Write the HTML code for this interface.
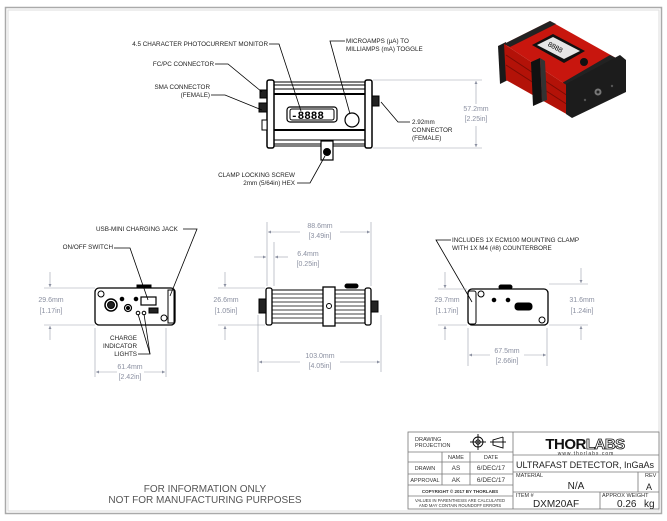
<!DOCTYPE html>
<html><head><meta charset="utf-8"><style>
html,body{margin:0;padding:0;background:#fff;}
svg{display:block;font-family:"Liberation Sans",sans-serif;}
.l{fill:#222;font-size:6.3px;}
.d{fill:#8a8fa0;font-size:7px;}
.k{stroke:#000;fill:none;}
.g{stroke:#9aa0aa;stroke-width:0.6;fill:none;}
</style></head><body>
<svg width="667" height="521" viewBox="0 0 667 521" xmlns="http://www.w3.org/2000/svg">
<defs><marker id="a" viewBox="0 0 6 6" refX="6" refY="3" markerWidth="5" markerHeight="5" orient="auto-start-reverse"><path d="M0,0L6,3L0,6z" fill="#8a8fa0"/></marker></defs>
<rect x="0" y="0" width="667" height="521" fill="#fff"/>
<rect x="5.5" y="7.5" width="656" height="506" fill="none" stroke="#aaa" stroke-width="1.5"/>
<rect x="8" y="10" width="651" height="501" fill="none" stroke="#ddd" stroke-width="1"/>

<!-- TOP VIEW -->
<g class="k" stroke-width="1">
<rect x="273" y="82" width="92" height="64" fill="#fff"/>
<rect x="267" y="80" width="7" height="68" rx="2" fill="#fff" stroke-width="1.5"/>
<rect x="365" y="80" width="7" height="68" rx="2" fill="#fff" stroke-width="1.5"/>
<line x1="274" y1="85" x2="365" y2="85"/><line x1="274" y1="89" x2="365" y2="89"/>
<line x1="274" y1="94" x2="365" y2="94" stroke-width="2"/>
<line x1="274" y1="130" x2="365" y2="130" stroke-width="2"/>
<line x1="274" y1="140" x2="365" y2="140"/><line x1="274" y1="144" x2="365" y2="144"/>
<rect x="287" y="107" width="50" height="15" rx="3" stroke-width="1.2"/>
<rect x="290" y="109" width="44" height="11" rx="2"/>
<text x="291" y="119" font-size="11" font-family="Liberation Mono" fill="#000" stroke="none" font-weight="bold">-8888</text>
<circle cx="352" cy="120" r="7" stroke-width="1.2"/>
<rect x="321" y="141" width="12" height="19" fill="#fff" stroke-width="1.2"/>
<circle cx="327" cy="152" r="3.5" fill="#000"/>
<rect x="260" y="90" width="7" height="8" fill="#222"/>
<rect x="259" y="103" width="8" height="9" fill="#222"/>
<rect x="262" y="120" width="5" height="10" fill="#fff"/>
<rect x="372" y="96" width="7" height="10" fill="#222"/>
</g>
<g stroke="#000" stroke-width="0.8" fill="none">
<polyline points="269,44 279,44 301,111"/>
<polyline points="345,41 330,41 350,114"/>
<polyline points="215,64 228,64 262,92"/>
<polyline points="211,95 225,95 262,110"/>
<polyline points="410,122 398,122 381,102"/>
<polyline points="297,183 310,183 325,156"/>
</g>
<text class="l" x="268" y="46" text-anchor="end">4.5 CHARACTER PHOTOCURRENT MONITOR</text>
<text class="l" x="346" y="43">MICROAMPS (µA) TO</text>
<text class="l" x="346" y="51">MILLIAMPS (mA) TOGGLE</text>
<text class="l" x="214" y="66" text-anchor="end">FC/PC CONNECTOR</text>
<text class="l" x="210" y="89" text-anchor="end">SMA CONNECTOR</text>
<text class="l" x="210" y="97" text-anchor="end">(FEMALE)</text>
<text class="l" x="412" y="124">2.92mm</text>
<text class="l" x="412" y="132">CONNECTOR</text>
<text class="l" x="412" y="140">(FEMALE)</text>
<text class="l" x="295" y="177" text-anchor="end">CLAMP LOCKING SCREW</text>
<text class="l" x="295" y="185" text-anchor="end">2mm (5/64in) HEX</text>
<line class="g" x1="373" y1="80" x2="482" y2="80"/><line class="g" x1="373" y1="148" x2="482" y2="148"/>
<line class="g" x1="476" y1="81" x2="476" y2="147" marker-start="url(#a)" marker-end="url(#a)"/>
<rect x="463" y="104" width="26" height="22" fill="#fff"/>
<text class="d" x="476" y="111" text-anchor="middle">57.2mm</text>
<text class="d" x="476" y="121" text-anchor="middle">[2.25in]</text>

<!-- RED DEVICE (isometric) -->
<g>
<!-- left end plate -->
<polygon points="498,46 506,42 508,80 500,84" fill="#1a1a1a"/>
<!-- top face -->
<polygon points="504,44 550,21 616,58 568,86" fill="#c8160e"/>
<polygon points="504,44 550,21 556,24 510,47" fill="#222"/>
<polygon points="610,55 616,58 568,86 562,83" fill="#222"/>
<!-- front face -->
<polygon points="504,44 568,86 570,116 506,80" fill="#b31208"/>
<line x1="506" y1="55" x2="568" y2="96" stroke="#7a0c05" stroke-width="1"/>
<line x1="506" y1="65" x2="568" y2="105" stroke="#7a0c05" stroke-width="1"/>
<!-- right end plate -->
<polygon points="566,84 620,55 626,60 626,92 572,118 566,114" fill="#1c1c1c"/>
<circle cx="598" cy="92" r="3.5" fill="#777"/><circle cx="598" cy="92" r="1.5" fill="#222"/>
<circle cx="585" cy="100" r="1.2" fill="#555"/><circle cx="612" cy="86" r="1.2" fill="#555"/>
<!-- display -->
<polygon points="532,45 553,34 585,51 564,63" fill="#111"/>
<polygon points="537,45 553,37 580,51 564,59" fill="#e6e6e6"/>
<text x="547" y="51" font-size="7" fill="#000" transform="rotate(28 558 49)">8888</text>
<circle cx="584" cy="62" r="4" fill="#111"/>
<!-- clamp -->
<polygon points="531,62 540,58 542,102 533,106" fill="#111"/>
<polygon points="540,58 545,61 547,100 542,102" fill="#333"/>
</g>

<!-- LEFT END VIEW -->
<g class="k">
<rect x="95" y="288" width="80" height="37" rx="4" stroke-width="1.3" fill="#fff"/>
<rect x="168" y="290" width="6" height="33" fill="none"/>
<circle cx="101" cy="294" r="3"/>
<circle cx="111" cy="305" r="6" stroke-width="1.5"/><circle cx="111" cy="305" r="3.5" fill="#222"/>
<circle cx="128" cy="308" r="3.5" stroke-width="1.2"/><circle cx="128" cy="308" r="1.5" fill="#000"/>
<circle cx="122" cy="299" r="1.8" fill="#000"/><circle cx="136" cy="299" r="1.8" fill="#000"/>
<rect x="141" y="297" width="15" height="8" stroke-width="1.2"/>
<rect x="149" y="308" width="9" height="5" fill="#222"/>
<circle cx="138" cy="313" r="1.8"/><circle cx="144" cy="313" r="1.8"/>
<circle cx="164" cy="318" r="3"/>
<rect x="137" y="285" width="14" height="3" fill="#000"/>
</g>
<g stroke="#000" stroke-width="0.8" fill="none">
<polyline points="183,229 197,229 170,296"/>
<polyline points="114,248 130,248 148,300"/>
<polyline points="138,354 150,354 138,314"/>
<line x1="150" y1="354" x2="144" y2="314"/>
</g>
<text class="l" x="96" y="231">USB-MINI CHARGING JACK</text>
<text class="l" x="113" y="249" text-anchor="end">ON/OFF SWITCH</text>
<text class="l" x="137" y="340" text-anchor="end">CHARGE</text>
<text class="l" x="137" y="348" text-anchor="end">INDICATOR</text>
<text class="l" x="137" y="356" text-anchor="end">LIGHTS</text>
<line class="g" x1="44" y1="288" x2="95" y2="288"/><line class="g" x1="44" y1="325" x2="95" y2="325"/>
<line class="g" x1="50" y1="272" x2="50" y2="287" marker-end="url(#a)"/>
<line class="g" x1="50" y1="340" x2="50" y2="326" marker-end="url(#a)"/>
<text class="d" x="51" y="302" text-anchor="middle">29.6mm</text>
<text class="d" x="51" y="313" text-anchor="middle">[1.17in]</text>
<line class="g" x1="95" y1="328" x2="95" y2="377"/><line class="g" x1="166" y1="328" x2="166" y2="377"/>
<line class="g" x1="96" y1="372" x2="117" y2="372" marker-start="url(#a)"/>
<line class="g" x1="144" y1="372" x2="165" y2="372" marker-end="url(#a)"/>
<text class="d" x="130" y="369" text-anchor="middle">61.4mm</text>
<text class="d" x="130" y="379" text-anchor="middle">[2.42in]</text>

<!-- MIDDLE SIDE VIEW -->
<g class="k">
<rect x="270" y="290" width="96" height="33" fill="#fff"/>
<g stroke-width="0.8">
<line x1="272" y1="294" x2="365" y2="294"/><line x1="272" y1="298" x2="365" y2="298"/><line x1="272" y1="302" x2="365" y2="302"/>
<line x1="272" y1="306" x2="365" y2="306"/><line x1="272" y1="310" x2="365" y2="310"/><line x1="272" y1="314" x2="365" y2="314"/>
<line x1="272" y1="318" x2="365" y2="318"/>
</g>
<rect x="266" y="288" width="6" height="37" rx="2" fill="#fff" stroke-width="1.3"/>
<rect x="365" y="288" width="6" height="37" rx="2" fill="#fff" stroke-width="1.3"/>
<rect x="323" y="287" width="12" height="39" fill="#fff" stroke-width="1.3"/>
<circle cx="329" cy="306" r="2.5"/>
<rect x="259" y="299" width="7" height="14" fill="#222"/>
<rect x="371" y="301" width="7" height="11" fill="#222"/>
<rect x="345" y="284" width="13" height="4" rx="2" fill="#000"/>
</g>
<line class="g" x1="267" y1="222" x2="267" y2="286"/><line class="g" x1="371" y1="222" x2="371" y2="286"/>
<line class="g" x1="268" y1="232" x2="370" y2="232" marker-start="url(#a)" marker-end="url(#a)"/>
<rect x="300" y="229" width="40" height="4" fill="#fff"/>
<text class="d" x="320" y="228" text-anchor="middle">88.6mm</text>
<text class="d" x="320" y="238" text-anchor="middle">[3.49in]</text>
<line class="g" x1="274" y1="242" x2="274" y2="286"/>
<line class="g" x1="254" y1="257" x2="266" y2="257" marker-end="url(#a)"/>
<line class="g" x1="288" y1="257" x2="275" y2="257" marker-end="url(#a)"/>
<text class="d" x="308" y="256" text-anchor="middle">6.4mm</text>
<text class="d" x="308" y="266" text-anchor="middle">[0.25in]</text>
<line class="g" x1="218" y1="288" x2="265" y2="288"/><line class="g" x1="218" y1="325" x2="265" y2="325"/>
<line class="g" x1="225" y1="272" x2="225" y2="287" marker-end="url(#a)"/>
<line class="g" x1="225" y1="340" x2="225" y2="326" marker-end="url(#a)"/>
<text class="d" x="226" y="302" text-anchor="middle">26.6mm</text>
<text class="d" x="226" y="313" text-anchor="middle">[1.05in]</text>
<line class="g" x1="258" y1="315" x2="258" y2="372"/><line class="g" x1="381" y1="315" x2="381" y2="372"/>
<line class="g" x1="259" y1="362" x2="380" y2="362" marker-start="url(#a)" marker-end="url(#a)"/>
<rect x="300" y="359" width="40" height="4" fill="#fff"/>
<text class="d" x="320" y="358" text-anchor="middle">103.0mm</text>
<text class="d" x="320" y="368" text-anchor="middle">[4.05in]</text>

<!-- RIGHT END VIEW -->
<g class="k">
<rect x="468" y="289" width="80" height="36" rx="4" stroke-width="1.3" fill="#fff"/>
<rect x="468" y="291" width="8" height="33" rx="2"/>
<circle cx="481" cy="294" r="3"/>
<circle cx="494" cy="300" r="1.8" fill="#000"/><circle cx="508" cy="300" r="1.8" fill="#000"/>
<rect x="515" y="303" width="17" height="7" rx="3" fill="#000"/>
<circle cx="542" cy="320" r="3"/>
<rect x="499" y="285" width="13" height="4" rx="2" fill="#000"/>
</g>
<polyline points="451,240 436,240 472,302" stroke="#000" stroke-width="0.8" fill="none"/>
<text class="l" x="452" y="242">INCLUDES 1X ECM100 MOUNTING CLAMP</text>
<text class="l" x="452" y="250">WITH 1X M4 (#8) COUNTERBORE</text>
<line class="g" x1="438" y1="289" x2="467" y2="289"/><line class="g" x1="438" y1="325" x2="467" y2="325"/>
<line class="g" x1="445" y1="272" x2="445" y2="288" marker-end="url(#a)"/>
<line class="g" x1="445" y1="340" x2="445" y2="326" marker-end="url(#a)"/>
<text class="d" x="447" y="302" text-anchor="middle">29.7mm</text>
<text class="d" x="447" y="313" text-anchor="middle">[1.17in]</text>
<line class="g" x1="549" y1="284" x2="588" y2="284"/><line class="g" x1="549" y1="325" x2="588" y2="325"/>
<line class="g" x1="581" y1="268" x2="581" y2="283" marker-end="url(#a)"/>
<line class="g" x1="581" y1="340" x2="581" y2="326" marker-end="url(#a)"/>
<text class="d" x="582" y="302" text-anchor="middle">31.6mm</text>
<text class="d" x="582" y="313" text-anchor="middle">[1.24in]</text>
<line class="g" x1="468" y1="328" x2="468" y2="366"/><line class="g" x1="547" y1="328" x2="547" y2="366"/>
<line class="g" x1="469" y1="355" x2="490" y2="355" marker-start="url(#a)"/>
<line class="g" x1="524" y1="355" x2="546" y2="355" marker-end="url(#a)"/>
<text class="d" x="507" y="353" text-anchor="middle">67.5mm</text>
<text class="d" x="507" y="363" text-anchor="middle">[2.66in]</text>

<!-- FOOTER -->
<text x="205" y="492" font-size="10" fill="#555" text-anchor="middle">FOR INFORMATION ONLY</text>
<text x="205" y="503" font-size="10" fill="#555" text-anchor="middle">NOT FOR MANUFACTURING PURPOSES</text>

<!-- TITLE BLOCK -->
<g stroke="#777" stroke-width="0.8" fill="none">
<rect x="408" y="432" width="251" height="77" fill="#fff"/>
<line x1="513" y1="432" x2="513" y2="509"/>
<line x1="408" y1="452" x2="513" y2="452"/>
<line x1="408" y1="462" x2="513" y2="462"/>
<line x1="408" y1="474" x2="513" y2="474"/>
<line x1="408" y1="485" x2="513" y2="485"/>
<line x1="408" y1="496" x2="513" y2="496"/>
<line x1="442" y1="452" x2="442" y2="485"/>
<line x1="470" y1="452" x2="470" y2="485"/>
<line x1="513" y1="455" x2="659" y2="455"/>
<line x1="513" y1="472" x2="659" y2="472"/>
<line x1="513" y1="492" x2="659" y2="492"/>
<line x1="638" y1="472" x2="638" y2="492"/>
<line x1="600" y1="492" x2="600" y2="509"/>
</g>
<g fill="#333" font-size="5.5">
<text x="415" y="441">DRAWING</text><text x="415" y="447">PROJECTION</text>
<text x="456" y="459" text-anchor="middle">NAME</text><text x="491" y="459" text-anchor="middle">DATE</text>
<text x="425" y="470" text-anchor="middle">DRAWN</text><text x="456" y="470" text-anchor="middle" font-size="6.5">AS</text><text x="491" y="470" text-anchor="middle" font-size="6.5">6/DEC/17</text>
<text x="425" y="482" text-anchor="middle">APPROVAL</text><text x="456" y="482" text-anchor="middle" font-size="6.5">AK</text><text x="491" y="482" text-anchor="middle" font-size="6.5">6/DEC/17</text>
<text x="460" y="493" text-anchor="middle" font-size="4.5" font-weight="bold">COPYRIGHT © 2017 BY THORLABS</text>
<text x="460" y="502" text-anchor="middle" font-size="4.2">VALUES IN PARENTHESIS ARE CALCULATED</text>
<text x="460" y="507" text-anchor="middle" font-size="4.2">AND MAY CONTAIN ROUNDOFF ERRORS</text>
<text x="516" y="477">MATERIAL</text>
<text x="516" y="497">ITEM #</text>
<text x="645" y="477">REV</text>
<text x="602" y="497">APPROX WEIGHT</text>
</g>
<g fill="none" stroke="#000" stroke-width="0.9">
<circle cx="478" cy="442" r="5"/><circle cx="478" cy="442" r="2.2"/>
<line x1="470" y1="442" x2="486" y2="442"/><line x1="478" y1="434" x2="478" y2="450"/>
<polyline points="503,437 493,440 493,445 503,448 503,437"/>
<line x1="490" y1="442" x2="506" y2="442"/>
</g>
<text x="585" y="449" font-size="15" font-weight="bold" text-anchor="middle" fill="#111" letter-spacing="-0.5">THOR<tspan fill="#fff" stroke="#111" stroke-width="0.8">LABS</tspan></text>
<text x="586" y="455" font-size="5" text-anchor="middle" fill="#333" letter-spacing="1">www.thorlabs.com</text>
<text x="516" y="468" font-size="9" fill="#222">ULTRAFAST DETECTOR, InGaAs</text>
<text x="576" y="489" font-size="10" fill="#222" text-anchor="middle">N/A</text>
<text x="649" y="490" font-size="9" fill="#222" text-anchor="middle">A</text>
<text x="556" y="507" font-size="10" fill="#222" text-anchor="middle">DXM20AF</text>
<text x="617" y="507" font-size="10" fill="#222">0.26</text>
<text x="644" y="507" font-size="10" fill="#222">kg</text>
</svg>
</body></html>
